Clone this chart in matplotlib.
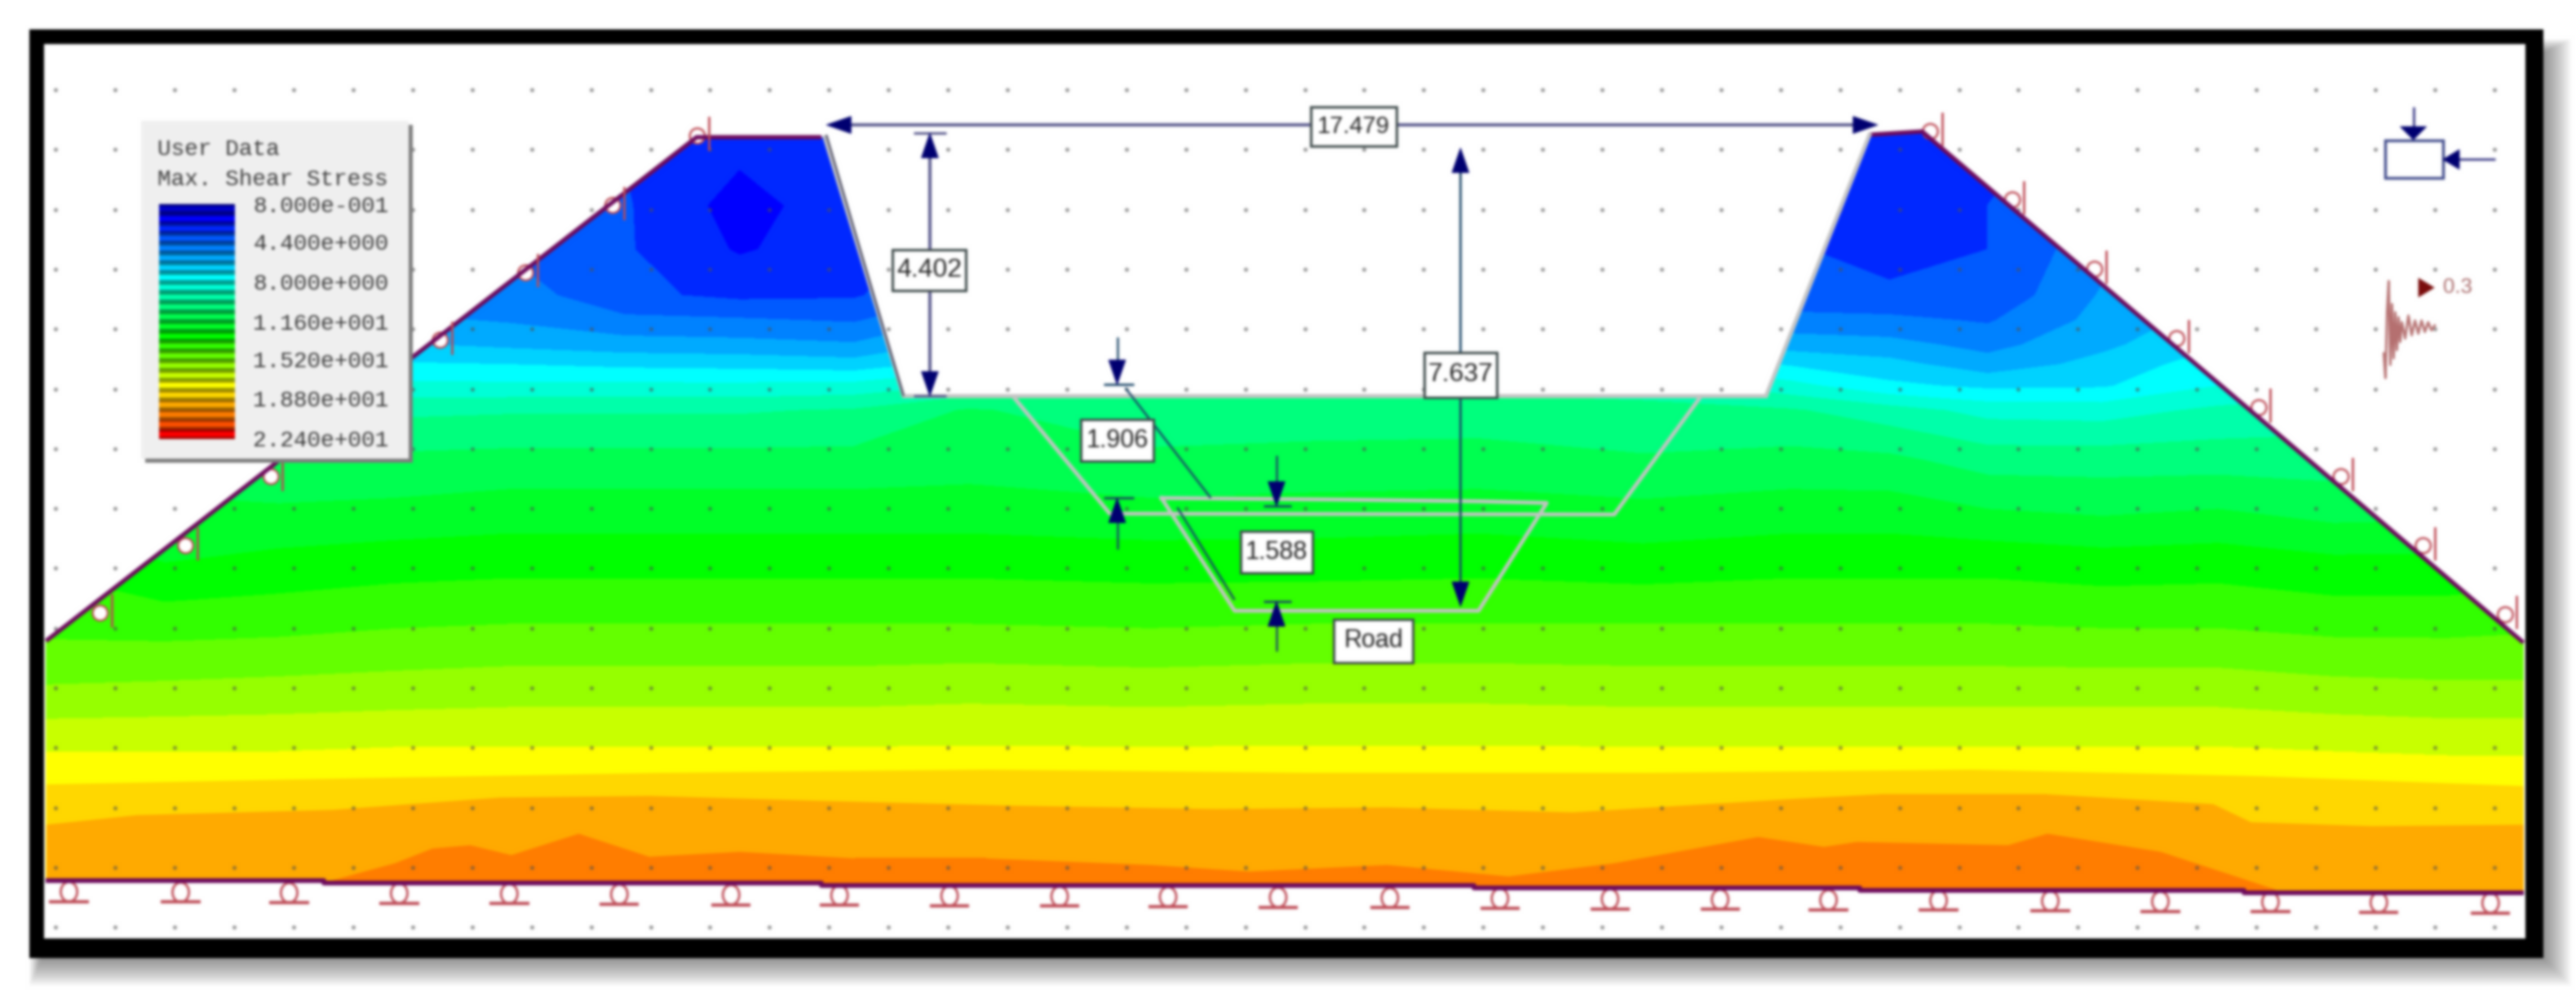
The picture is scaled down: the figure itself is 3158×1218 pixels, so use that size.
import numpy as np
import matplotlib
matplotlib.use("Agg")
import matplotlib.pyplot as plt
from matplotlib.patches import Rectangle, Polygon, Ellipse, Circle

# ---------- data (model-plane units) ----------
legend_title = ["User Data", "Max. Shear Stress"]
legend_ticks = ["8.000e-001", "4.400e+000", "8.000e+000", "1.160e+001",
                "1.520e+001", "1.880e+001", "2.240e+001"]
levels = np.arange(0.8, 22.41, 0.9)
band_colors = ["#0000c8", "#0000ff", "#0028ff", "#005aff", "#0082ff", "#00aaff",
               "#00d2ff", "#00ffff", "#00ffd7", "#00ffaa", "#00ff7d", "#00ff50",
               "#00ff28", "#00ff00", "#32ff00", "#64ff00", "#96ff00", "#c8ff00",
               "#ffff00", "#ffd700", "#ffaa00", "#ff7d00", "#ff5000", "#ff0000"]

grid_x = [28, 100, 170, 240, 310, 380, 450, 520, 590, 700, 800, 900, 1000, 1090,
          1150, 1210, 1280, 1350, 1420, 1490, 1536]
grid_y = [80, 125, 152, 180, 195, 210, 222, 235, 250, 280, 310, 340, 380, 420, 460, 550]
stress_columns = [
    [4.0, 5.0, 6.0, 7.0, 8.0, 9.0, 10.0, 11.0, 11.5, 12.0, 12.5, 13.2, 14.0, 15.3, 17.1, 17.5],
    [4.0, 4.5, 5.0, 5.5, 6.0, 7.0, 8.0, 9.0, 10.0, 11.0, 11.8, 12.4, 13.9, 15.4, 17.1, 17.5],
    [3.5, 4.2, 4.6, 5.0, 5.5, 6.5, 7.5, 8.5, 9.6, 10.8, 11.7, 12.7, 14.0, 15.5, 17.1, 17.5],
    [3.5, 4.0, 4.3, 4.8, 5.5, 6.3, 7.2, 8.2, 9.6, 10.9, 11.8, 12.9, 14.2, 15.6, 17.2, 17.5],
    [3.5, 4.0, 4.3, 4.9, 5.2, 6.0, 7.1, 8.2, 9.7, 11.0, 12.0, 13.0, 14.3, 15.7, 17.2, 17.5],
    [3.4, 3.6, 3.6, 3.7, 4.6, 5.7, 6.9, 8.2, 9.7, 11.0, 12.0, 13.0, 14.3, 15.7, 17.2, 17.5],
    [3.0, 2.2, 2.5, 3.3, 4.5, 5.6, 6.8, 8.2, 9.7, 11.0, 12.0, 13.0, 14.3, 15.7, 17.2, 17.5],
    [3.3, 3.2, 3.1, 3.4, 4.3, 5.4, 6.6, 8.3, 9.9, 11.0, 12.0, 13.0, 14.3, 15.7, 17.2, 17.5],
    [4.0, 4.0, 4.0, 4.5, 5.5, 6.5, 7.5, 9.0, 10.8, 11.2, 12.0, 13.0, 14.3, 15.8, 17.2, 17.5],
    [5.0, 5.0, 5.0, 5.5, 6.0, 7.0, 8.0, 9.5, 10.1, 10.9, 11.8, 12.9, 14.2, 15.7, 17.2, 17.5],
    [5.0, 5.0, 5.0, 5.5, 6.0, 7.0, 8.0, 9.5, 10.2, 11.0, 11.9, 12.9, 14.3, 15.8, 17.2, 17.5],
    [5.0, 5.0, 5.0, 5.5, 6.0, 7.0, 8.0, 9.5, 10.3, 11.0, 12.0, 13.0, 14.3, 15.8, 17.2, 17.5],
    [5.0, 5.0, 5.0, 5.5, 6.0, 7.0, 8.0, 9.5, 10.0, 10.8, 11.8, 12.8, 14.3, 15.7, 17.2, 17.5],
    [3.6, 3.6, 3.6, 3.8, 4.7, 5.8, 7.0, 8.3, 9.9, 11.0, 12.0, 13.0, 14.3, 15.7, 17.2, 17.5],
    [3.4, 2.9, 3.1, 3.7, 4.6, 5.6, 6.5, 7.3, 9.3, 10.9, 12.0, 13.0, 14.3, 15.7, 17.2, 17.5],
    [3.0, 3.5, 3.5, 3.7, 4.3, 5.0, 5.7, 6.9, 8.6, 10.3, 11.6, 13.0, 14.3, 15.7, 17.2, 17.5],
    [4.0, 4.0, 5.0, 5.4, 5.6, 6.0, 6.5, 7.0, 8.5, 10.3, 11.4, 12.8, 14.2, 15.7, 17.2, 17.5],
    [4.5, 5.0, 5.5, 6.0, 6.6, 7.0, 7.6, 8.0, 9.1, 10.3, 11.6, 12.9, 14.2, 15.7, 17.2, 17.5],
    [5.0, 5.5, 6.0, 6.5, 7.0, 7.5, 8.0, 8.5, 9.3, 10.3, 11.2, 12.6, 14.0, 15.5, 17.1, 17.5],
    [5.0, 5.5, 6.0, 6.5, 7.0, 7.5, 8.0, 8.5, 9.5, 10.5, 11.3, 12.6, 14.0, 15.4, 17.0, 17.5],
    [5.0, 5.5, 6.0, 6.5, 7.0, 7.5, 8.0, 8.5, 9.5, 10.5, 11.5, 12.8, 14.1, 15.4, 17.0, 17.5],
]

# read contour lines of the lower bands: (x, y) per iso-value
iso_179_x = [28, 177, 400, 600, 800, 1000, 1200, 1375, 1536]
iso_179_y = [477, 474, 470, 468, 470, 470, 468, 472, 478]
iso_188_x = [28, 83, 202, 304, 395, 500, 620, 740, 844, 957, 1093, 1144, 1246, 1347, 1370, 1444, 1536]
iso_188_y = [501.5, 495.7, 492.5, 485, 484, 487, 490, 492, 491, 494, 485.7, 483, 483, 489, 500, 502.4, 501.5]
iso_197_x = [196, 240, 263, 286, 311, 352, 395, 450, 520, 600, 700, 760, 844, 918, 982, 1070, 1110,
             1130, 1222, 1246, 1315, 1385]
iso_197_y = [537, 525, 516, 514, 520, 507, 521, 518, 522, 522, 526, 530, 526, 533, 525, 509, 515,
             512, 514, 507, 518, 541]

soil_x = [28, 424, 502, 550, 1075, 1138, 1170, 1536, 1536, 1366, 1366, 1132, 1132, 897, 897, 500, 500, 197, 197, 28]
soil_y = [390, 83.5, 83.5, 241, 241, 82, 80, 391, 543, 543, 541.5, 541.5, 540, 540, 538.5, 538.5, 537, 537, 535.5, 535.5]

road_cut_x = [617, 675.5, 982.6, 1035]
road_cut_y = [241.6, 312.5, 313, 241.6]
road_x = [707, 820, 900, 941.5, 900, 751.5, 707]
road_y = [303, 304, 305, 306, 371.6, 371.6, 303]

roller_x = [42, 110, 176, 243, 310, 377, 445, 511, 578, 645, 711, 778, 846, 913, 980, 1047, 1113,
            1180, 1248, 1315, 1382, 1448, 1516]
pin_left_x = [61, 113, 165, 216.5, 268, 320, 373, 424.5]
pin_left_y = [373, 332, 290, 249, 207, 166, 125, 82.7]
pin_right_x = [1175, 1225, 1275, 1325, 1375, 1425, 1475, 1525]
pin_right_y = [80, 121.6, 163.8, 206, 248, 290, 332, 374]

wave_x = [1451, 1452, 1453, 1454, 1455, 1456, 1457, 1458, 1459, 1460, 1461, 1462, 1464, 1466, 1468,
          1470, 1472, 1474, 1476, 1478, 1480, 1482]
wave_y = [215, 230, 190, 171, 222, 185, 218, 190, 213, 193, 208, 196, 206, 192, 204, 195, 203, 195,
          202, 196, 201, 198]

box_labels = ["17.479", "4.402", "7.637", "1.906", "1.588", "Road"]
box_cx = [824, 565.5, 889, 680, 777, 836]
box_cy = [77, 164.5, 228, 268, 336, 390]
box_w = [52, 45, 44, 44, 44, 48]
box_h = [24, 25, 27.5, 25.5, 25.5, 26.5]
box_font = [21, 23, 23, 22, 22, 22]

# ---------- drawing ----------
S = 3158 / 1568
plt.rcParams["font.family"] = ["Liberation Sans", "DejaVu Sans"]
fig = plt.figure(figsize=(31.58, 12.18), dpi=100, facecolor="white")
ax = fig.add_axes([0, 0, 1, 1])
ax.set_xlim(0, 3158 / S)
ax.set_ylim(1218 / S, 0)
ax.axis("off")


def soften(image, dpi):
    """Slight gaussian softening of the whole drawing, like the screenshot it copies."""
    r = 5
    sigma = 1.7
    w = np.exp(-0.5 * (np.arange(-r, r + 1) / sigma) ** 2)
    w /= w.sum()
    out = image.astype(np.float32)
    for axis in (0, 1):
        acc = np.zeros_like(out)
        for off, wt in zip(range(-r, r + 1), w):
            acc += wt * np.roll(out, off, axis=axis)
        out = acc
    return out, 0, 0


ax.add_patch(Rectangle((0, 0), 3158 / S, 1218 / S, fc="white", ec="none", zorder=-1))

# page shadow + frame
for d in range(18, 0, -1):
    x0 = 18 + (18 - d) * 0.45
    y0 = 24 + (18 - d) * 0.5
    ax.add_patch(Rectangle((x0, y0), 1547 + d - x0, 582 + d - y0, fc="black", ec="none", alpha=0.028, zorder=0))
ax.add_patch(Rectangle((18, 18), 1530, 565, fc="black", ec="none", zorder=1))
ax.add_patch(Rectangle((27, 27), 1510, 544, fc="white", ec="none", zorder=2))

# contour field
soil = Polygon(np.column_stack([soil_x, soil_y]), closed=True, fc="none", ec="none", transform=ax.transData)
ax.add_patch(soil)
X, Y = np.meshgrid(grid_x, grid_y)
V = np.array(stress_columns).T
cs = ax.contourf(X, Y, V, levels=levels, colors=band_colors, zorder=3)
cs.set_edgecolor("face")
cs.set_linewidth(0.6)
cs.set_clip_path(soil)


def lower_band(xs, ys, color, z):
    art = ax.fill_between(xs, ys, 560, color=color, lw=0, zorder=z)
    art.set_clip_path(soil)


lower_band(iso_179_x, iso_179_y, band_colors[19], 3.1)
lower_band(iso_188_x, iso_188_y, band_colors[20], 3.2)
lower_band(iso_197_x, iso_197_y, band_colors[21], 3.3)

# background grid of dots
gx, gy = np.meshgrid(34 + 36.2 * np.arange(42), 54.6 + 36.4 * np.arange(15))
ax.scatter(gx.ravel(), gy.ravel(), s=13, c="#505050", alpha=0.6, linewidths=0, zorder=4)

# boundary
PURPLE = "#6d0a5c"
GREY = "#c4c4c4"
ax.plot(soil_x[:2] + [soil_x[2] - 2], soil_y[:3], color=PURPLE, lw=3.8, zorder=6, solid_capstyle="butt")
ax.plot(soil_x[5:8], soil_y[5:8], color=PURPLE, lw=3.8, zorder=6, solid_capstyle="butt")
ax.plot(soil_x[8:], soil_y[8:], color=PURPLE, lw=4.2, zorder=6, solid_capstyle="butt")
ax.plot(soil_x[2:6], soil_y[2:6], color=GREY, lw=3.6, zorder=6, solid_joinstyle="miter")
ax.plot(road_cut_x, road_cut_y, color=GREY, lw=3.4, zorder=6)
ax.plot(road_x, road_y, color=GREY, lw=3.4, zorder=6)

# supports
RED = "#bd4a55"
for x, y in zip(pin_left_x + pin_right_x, pin_left_y + pin_right_y):
    ax.add_patch(Circle((x, y), 4.6, fc="white", ec=RED, lw=1.8, zorder=5))
    ax.plot([x + 7, x + 7], [y - 11, y + 8], color=RED, lw=2.0, zorder=7)
for x in roller_x:
    line_y = np.interp(x, [28, 1536], [536, 543])
    ax.add_patch(Ellipse((x, line_y + 6.5), 10, 12, fc="white", ec=RED, lw=2.0, zorder=5))
    ax.plot([x - 12, x + 12], [line_y + 12.5, line_y + 12.5], color=RED, lw=2.8, zorder=5, solid_capstyle="butt")

# dimension helpers
NAVY = "#000070"
SHAFT = "#5c5c8e"
THIN = "#1c4668"


def head(tx, ty, dx, dy, length=15, half=5.2):
    px, py = -dy, dx
    ax.add_patch(Polygon([(tx, ty),
                          (tx - dx * length + px * half, ty - dy * length + py * half),
                          (tx - dx * length - px * half, ty - dy * length - py * half)],
                         closed=True, fc=NAVY, ec=NAVY, lw=0.5, zorder=8))


def seg(xs, ys, color=SHAFT, lw=2.8):
    ax.plot(xs, ys, color=color, lw=lw, zorder=7, solid_capstyle="butt")


# 17.479
seg([510, 1135], [76, 76])
head(503, 76, -1, 0)
head(1143, 76, 1, 0)
# 4.402
seg([566, 566], [90, 235])
head(566, 81, 0, -1)
head(566, 241, 0, 1)
seg([556, 576], [81, 81], SHAFT, 2.2)
seg([556, 576], [241, 241], SHAFT, 2.2)
seg([503, 550], [82, 241], "#54546a", 1.8)
# 7.637
seg([889, 889], [100, 360], THIN, 2.0)
head(889, 90, 0, -1)
head(889, 369, 0, 1)
# 1.906
seg([680, 680], [205, 225], THIN, 1.8)
head(680, 234, 0, 1)
seg([672, 690], [234, 234], THIN, 2.0)
seg([680, 680], [318, 334], THIN, 1.8)
head(680, 303, 0, -1)
seg([672, 690], [303, 303], THIN, 2.0)
seg([685, 737], [236, 303], THIN, 1.8)
# 1.588
seg([777, 777], [277, 298], THIN, 1.8)
head(777, 308, 0, 1)
seg([769, 786], [308, 308], THIN, 2.0)
seg([777, 777], [378, 396], THIN, 1.8)
head(777, 366, 0, -1)
seg([769, 786], [366, 366], THIN, 2.0)
seg([716.6, 751.5], [308.7, 365], THIN, 1.8)

for lab, cx, cy, w, h, fs in zip(box_labels, box_cx, box_cy, box_w, box_h, box_font):
    ax.add_patch(Rectangle((cx - w / 2, cy - h / 2), w, h, fc="white", ec="#3e4a4a", lw=2.2, zorder=9))
    ax.text(cx, cy, lab, ha="center", va="center", fontsize=fs, color="#222222", zorder=10)

# axes icon
ax.add_patch(Rectangle((1452, 85.4), 35, 22.6, fc="white", ec="#3f4a8a", lw=2.4, zorder=6))
seg([1469, 1469], [65, 78], "#4a4a90", 2.2)
head(1469, 85, 0, 1, length=8, half=8)
seg([1495, 1519], [97, 97], "#4a4a90", 2.2)
head(1487, 97, -1, 0, length=10, half=6)

# seismic icon
ax.plot(wave_x, wave_y, color="#b57070", lw=2.0, zorder=6)
ax.add_patch(Polygon([(1472, 169), (1482, 175), (1472, 181)], closed=True, fc="#7a0d0d", ec="none", zorder=6))
ax.text(1487, 175, "0.3", ha="left", va="center", fontsize=18.5, color="#a86a6a", zorder=6)

# legend
ax.add_patch(Rectangle((88.5, 76), 162.5, 205.5, fc="#7d7d7d", ec="none", zorder=11))
ax.add_patch(Rectangle((86, 73.5), 163, 205.5, fc="#f0f0f0", ec="none", zorder=12))
mono = "Liberation Mono"
for txt, y in zip(legend_title, [91, 109]):
    ax.text(96, y, txt, family=mono, fontsize=20, color="#3c3c3c", ha="left", va="center", zorder=13)
bar_top, bar_bottom = 124.0, 267.0
dh = (bar_bottom - bar_top) / len(band_colors)
for k, c in enumerate(band_colors):
    y0 = bar_top + k * dh
    rgb = np.array(matplotlib.colors.to_rgb(c))
    ax.add_patch(Rectangle((97, y0), 46, dh, fc=rgb * 0.62, ec="none", zorder=13))
    ax.add_patch(Rectangle((97, y0 + 0.25 * dh), 46, 0.55 * dh, fc=rgb, ec="none", zorder=14))
for txt, y in zip(legend_ticks, [125.8, 148.6, 173, 197, 220, 244, 268]):
    ax.text(154, y, txt, family=mono, fontsize=20, color="#3a3a3a", ha="left", va="center", zorder=13)

ax.set_agg_filter(soften)
fig.savefig("out.png", dpi=100, facecolor="white")
